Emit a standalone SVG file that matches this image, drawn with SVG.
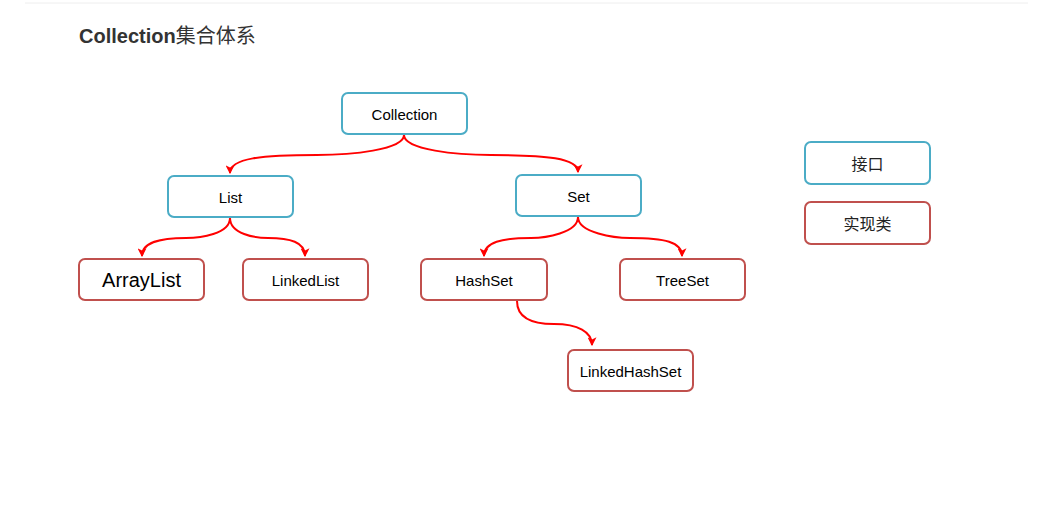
<svg xmlns="http://www.w3.org/2000/svg" width="1046" height="516" viewBox="0 0 1046 516">
<style>
.iface{fill:#fff;stroke:#4bacc6;stroke-width:2}
.impl{fill:#fff;stroke:#c0504d;stroke-width:2}
.lbl{font-family:"Liberation Sans",Arial,sans-serif;font-size:15px;fill:#000;text-anchor:middle;dominant-baseline:central}
.big{font-size:20px}
.cjk{font-family:"Noto Sans CJK SC",sans-serif;font-size:16px;fill:#222;text-anchor:middle;dominant-baseline:central}
.conn{fill:none;stroke:#ff0000;stroke-width:2;marker-end:url(#arr)}
</style>
<defs>
<marker id="arr" markerUnits="userSpaceOnUse" markerWidth="9" markerHeight="9" refX="7" refY="4" orient="auto" viewBox="0 0 8 8">
<path d="M0,0 L8,4 L0,8 L2,4 Z" fill="#ff0000"/>
</marker>
</defs>
<rect width="1046" height="516" fill="#fff"/>
<line x1="25" y1="3" x2="1028" y2="3" stroke="#eeeeee" stroke-width="1"/>
<text x="79" y="43" font-family="'Liberation Sans','Noto Sans CJK SC',sans-serif" font-size="20" font-weight="bold" fill="#333">Collection<tspan font-weight="normal">集合体系</tspan></text>
<g id="connectors">
<path class="conn" d="M404,135 C404,150 350,155 317,155 C262,155 230,158 230,173"/>
<path class="conn" d="M404,135 C404,150 458,155 491,155 C546,155 578,158 578,172"/>
<path class="conn" d="M230,218 C230,234 200,238 186,238 C160,238 142,242 142,256"/>
<path class="conn" d="M230,218 C230,234 255,238 268,238 C290,238 305,242 305,256"/>
<path class="conn" d="M578,217 C578,233 545,238 531,238 C502,238 484,242 484,256"/>
<path class="conn" d="M578,217 C578,233 615,238 630,238 C665,238 682,242 682,256"/>
<path class="conn" d="M517,301 C517,318 532,324 554,324 C578,324 592,332 592,345"/>
</g>
<g id="collection"><rect class="iface" x="342" y="93" width="125" height="41" rx="6"/><text class="lbl" x="404.5" y="114">Collection</text></g>
<g id="list"><rect class="iface" x="168" y="176" width="125" height="41" rx="6"/><text class="lbl" x="230.5" y="197">List</text></g>
<g id="set"><rect class="iface" x="516" y="175" width="125" height="41" rx="6"/><text class="lbl" x="578.5" y="196">Set</text></g>
<g id="arraylist"><rect class="impl" x="79" y="259" width="125" height="41" rx="6"/><text class="lbl big" x="141.5" y="280">ArrayList</text></g>
<g id="linkedlist"><rect class="impl" x="243" y="259" width="125" height="41" rx="6"/><text class="lbl" x="305.5" y="280">LinkedList</text></g>
<g id="hashset"><rect class="impl" x="421" y="259" width="126" height="41" rx="6"/><text class="lbl" x="484" y="280">HashSet</text></g>
<g id="treeset"><rect class="impl" x="620" y="259" width="125" height="41" rx="6"/><text class="lbl" x="682.5" y="280">TreeSet</text></g>
<g id="linkedhashset"><rect class="impl" x="568" y="350" width="125" height="41" rx="6"/><text class="lbl" x="630.5" y="371">LinkedHashSet</text></g>
<g id="legend-interface"><rect class="iface" x="805" y="142" width="125" height="42" rx="6"/><text class="cjk" x="867.5" y="163">接口</text></g>
<g id="legend-impl"><rect class="impl" x="805" y="202" width="125" height="42" rx="6"/><text class="cjk" x="867.5" y="223">实现类</text></g>
</svg>
